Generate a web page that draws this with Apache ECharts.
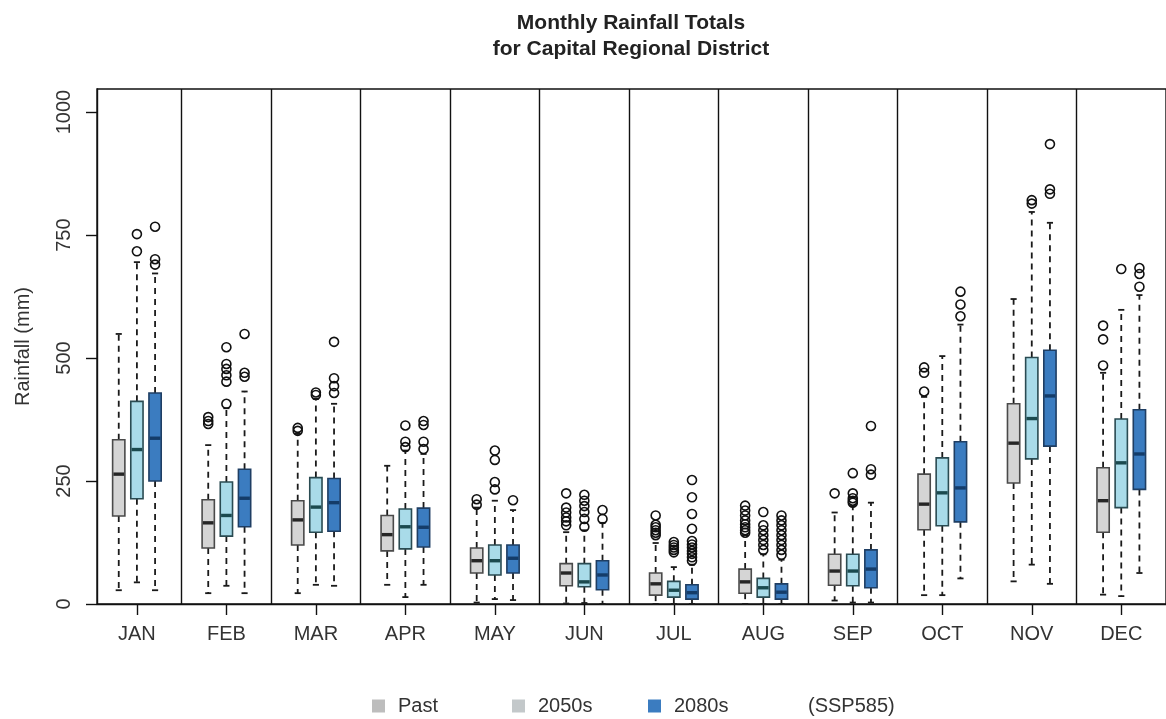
<!DOCTYPE html>
<html>
<head>
<meta charset="utf-8">
<title>Monthly Rainfall Totals for Capital Regional District</title>
<script src="https://cdn.jsdelivr.net/npm/echarts@6/dist/echarts.min.js"></script>
<style>
  html, body { margin: 0; padding: 0; background: #fff; }
  #chart { width: 1166px; height: 719px; }
</style>
</head>
<body>
<div id="chart"></div>
<script>
// Month categories and the y-axis ticks
const months = ['JAN', 'FEB', 'MAR', 'APR', 'MAY', 'JUN', 'JUL', 'AUG', 'SEP', 'OCT', 'NOV', 'DEC'];
const yTicks = [0, 250, 500, 750, 1000];
const seriesNames = ['Past', '2050s', '2080s'];

// Box statistics per month: [lower whisker, Q1, median, Q3, upper whisker] (mm)
const pastStats = [
  [28, 179, 264, 334, 549],
  [22, 114, 165, 212, 323],
  [22, 120, 171, 210, 346],
  [39, 108, 141, 180, 281],
  [3, 63, 88, 114, 196],
  [1, 37, 63, 82, 146],
  [0, 18, 41, 63, 124],
  [0, 22, 45, 71, 140],
  [7, 38, 67, 101, 186],
  [18, 151, 203, 264, 421],
  [46, 246, 327, 407, 620],
  [19, 146, 210, 277, 470]
];
const stats2050s = [
  [44, 214, 314, 412, 695],
  [37, 138, 180, 248, 398],
  [39, 146, 197, 257, 417],
  [14, 112, 157, 193, 312],
  [10, 59, 88, 120, 210],
  [2, 35, 45, 82, 150],
  [0, 14, 28, 46, 75],
  [0, 14, 33, 52, 101],
  [3, 37, 67, 101, 199],
  [18, 159, 226, 297, 504],
  [80, 295, 377, 501, 797],
  [16, 196, 287, 376, 598]
];
const stats2080s = [
  [28, 250, 337, 429, 672],
  [22, 157, 215, 274, 432],
  [37, 148, 206, 255, 407],
  [39, 116, 156, 195, 305],
  [8, 63, 93, 120, 191],
  [0, 29, 59, 88, 165],
  [0, 10, 23, 39, 80],
  [0, 10, 24, 41, 90],
  [3, 33, 71, 110, 206],
  [52, 167, 236, 330, 568],
  [41, 321, 423, 516, 775],
  [63, 233, 305, 395, 628]
];

// Outlying years per month (mm)
const pastOutliers = [
  [],
  [366, 372, 380],
  [352, 358],
  [],
  [202, 213],
  [160, 168, 176, 186, 196, 225],
  [140, 145, 150, 156, 161, 180],
  [145, 150, 156, 162, 170, 180, 190, 200],
  [225],
  [432, 470, 481],
  [],
  [485, 538, 566]
];
const outliers2050s = [
  [717, 752],
  [407, 452, 465, 478, 488, 522],
  [425, 430],
  [319, 330, 363],
  [233, 248, 293, 312],
  [157, 173, 187, 199, 210, 222],
  [105, 110, 115, 120, 126],
  [110, 120, 130, 140, 150, 160, 187],
  [206, 210, 215, 225, 266],
  [],
  [814, 821],
  [681]
];
const outliers2080s = [
  [690, 701, 767],
  [462, 470, 549],
  [429, 443, 459, 533],
  [315, 330, 364, 372],
  [211],
  [173, 191],
  [88, 95, 102, 108, 115, 121, 128, 153, 183, 217, 252],
  [100, 110, 120, 130, 140, 150, 160, 170, 180],
  [263, 274, 362],
  [585, 609, 635],
  [834, 843, 935],
  [645, 671, 683]
];

// Drawing styles for each period
const styles = [
  { fill: '#d5d5d5', stroke: '#4a4a4a', median: '#262626', legend: '#bdbdbd' },
  { fill: '#a9dbe9', stroke: '#2a4b52', median: '#1b4a4f', legend: '#c3c8ca' },
  { fill: '#3b7cc0', stroke: '#1f3e63', median: '#143c69', legend: '#3b7cc0' }
];
const groupOffsets = [-0.203, 0, 0.203];
const boxWidth = 0.137;     // in month units
const stapleWidth = 0.5;    // relative to box width

const allStats = [pastStats, stats2050s, stats2080s];
const allOutliers = [pastOutliers, outliers2050s, outliers2080s];
const monthPos = months.map((_, i) => i + 1);
const boundaries = months.slice(1).map((_, i) => i + 1.5);

function makeBoxRenderer(k) {
  const st = styles[k];
  return function (params, api) {
    const x = api.value(0) + groupOffsets[k];
    const unit = api.size([1, 0])[0];
    const half = unit * boxWidth / 2;
    const sHalf = half * stapleWidth;
    const pLo = api.coord([x, api.value(1)]);
    const pQ1 = api.coord([x, api.value(2)]);
    const pMed = api.coord([x, api.value(3)]);
    const pQ3 = api.coord([x, api.value(4)]);
    const pHi = api.coord([x, api.value(5)]);
    const cx = pLo[0];
    const whisker = { stroke: '#1a1a1a', lineWidth: 1.8, lineDash: [6, 5] };
    const staple = { stroke: '#1a1a1a', lineWidth: 1.8 };
    return {
      type: 'group',
      children: [
        { type: 'line', shape: { x1: cx, y1: pQ3[1], x2: cx, y2: pHi[1] }, style: whisker },
        { type: 'line', shape: { x1: cx, y1: pQ1[1], x2: cx, y2: pLo[1] }, style: whisker },
        { type: 'line', shape: { x1: cx - sHalf, y1: pHi[1], x2: cx + sHalf, y2: pHi[1] }, style: staple },
        { type: 'line', shape: { x1: cx - sHalf, y1: pLo[1], x2: cx + sHalf, y2: pLo[1] }, style: staple },
        {
          type: 'rect',
          shape: { x: cx - half, y: pQ3[1], width: half * 2, height: pQ1[1] - pQ3[1] },
          style: { fill: st.fill, stroke: st.stroke, lineWidth: 1.6 }
        },
        {
          type: 'line',
          shape: { x1: cx - half + 0.8, y1: pMed[1], x2: cx + half - 0.8, y2: pMed[1] },
          style: { stroke: st.median, lineWidth: 3.4 }
        }
      ]
    };
  };
}

const series = [];
seriesNames.forEach((name, k) => {
  series.push({
    name: name,
    type: 'custom',
    renderItem: makeBoxRenderer(k),
    encode: { x: 0, y: [1, 2, 3, 4, 5] },
    data: allStats[k].map((s, i) => [i + 1].concat(s)),
    itemStyle: { color: styles[k].legend },
    z: 3
  });
});
seriesNames.forEach((name, k) => {
  const pts = [];
  allOutliers[k].forEach((vals, i) => {
    vals.forEach(v => pts.push([i + 1 + groupOffsets[k], v]));
  });
  const s = {
    name: name,
    type: 'scatter',
    data: pts,
    symbol: 'circle',
    symbolSize: 9,
    itemStyle: { color: 'rgba(255,255,255,0)', borderColor: '#111', borderWidth: 1.6, opacity: 1 },
    z: 4,
    silent: true
  };
  if (k === 0) {
    // vertical rules between months
    s.markLine = {
      silent: true,
      symbol: 'none',
      label: { show: false },
      lineStyle: { color: '#111', width: 1.4, type: 'solid' },
      data: boundaries.map(b => ({ xAxis: b }))
    };
  }
  series.push(s);
});

const fontFamily = '"Liberation Sans", Arial, Helvetica, sans-serif';
const legendBase = {
  top: 691,
  itemWidth: 13,
  itemHeight: 13,
  icon: 'rect',
  selectedMode: false,
  textStyle: { fontSize: 20, color: '#333', fontFamily: fontFamily, padding: [0, 0, 0, 8] }
};

const chart = echarts.init(document.getElementById('chart'), null, { renderer: 'canvas' });
chart.setOption({
  animation: false,
  backgroundColor: '#fff',
  textStyle: { fontFamily: fontFamily },
  graphic: [
    {
      type: 'text',
      x: 631,
      y: 10,
      style: {
        text: 'Monthly Rainfall Totals\nfor Capital Regional District',
        textAlign: 'center',
        textVerticalAlign: 'top',
        font: 'bold 21px "Liberation Sans", Arial, sans-serif',
        lineHeight: 26,
        fill: '#222'
      }
    },
    {
      type: 'text',
      x: 808,
      y: 706,
      style: {
        text: '(SSP585)',
        textVerticalAlign: 'middle',
        font: '20px "Liberation Sans", Arial, sans-serif',
        fill: '#333'
      }
    }
  ],
  legend: [
    Object.assign({}, legendBase, { left: 367, data: [{ name: 'Past', itemStyle: { color: styles[0].legend } }] }),
    Object.assign({}, legendBase, { left: 507, data: [{ name: '2050s', itemStyle: { color: styles[1].legend } }] }),
    Object.assign({}, legendBase, { left: 643, data: [{ name: '2080s', itemStyle: { color: styles[2].legend } }] })
  ],
  grid: {
    left: 97,
    top: 89,
    width: 1079,
    height: 515,
    show: true,
    backgroundColor: '#fff',
    borderColor: '#111',
    borderWidth: 1.4
  },
  xAxis: {
    type: 'value',
    min: 0.554,
    max: 12.5,
    axisLine: { show: true, onZero: false, lineStyle: { color: '#111', width: 1.4 } },
    axisTick: { show: true, customValues: monthPos, length: 11, lineStyle: { color: '#111', width: 1.4 } },
    axisLabel: {
      customValues: monthPos,
      formatter: v => months[Math.round(v) - 1],
      fontSize: 20,
      color: '#333',
      margin: 20
    },
    splitLine: { show: false }
  },
  yAxis: {
    type: 'value',
    min: 0,
    max: 1047,
    name: 'Rainfall (mm)',
    nameLocation: 'middle',
    nameGap: 64,
    nameTextStyle: { fontSize: 20, color: '#333' },
    axisLine: { show: true, lineStyle: { color: '#111', width: 1.4 } },
    axisTick: { show: true, customValues: yTicks, length: 11, lineStyle: { color: '#111', width: 1.4 } },
    axisLabel: {
      customValues: yTicks,
      formatter: v => String(v),
      rotate: 90,
      fontSize: 20,
      color: '#333',
      margin: 23
    },
    splitLine: { show: false }
  },
  series: series
});
</script>
</body>
</html>
